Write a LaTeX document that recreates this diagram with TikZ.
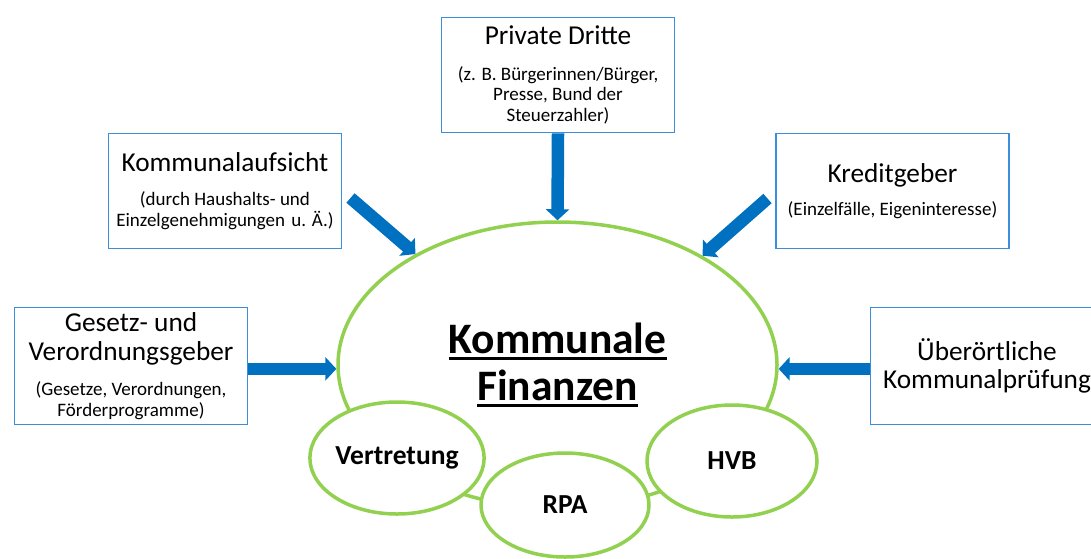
\documentclass[tikz,border=0pt]{standalone}
\usepackage{fontspec}
\setmainfont{Carlito}
\usetikzlibrary{shapes.geometric,arrows.meta}
\definecolor{arrowblue}{HTML}{0070C0}
\definecolor{boxblue}{HTML}{3B8EDB}
\definecolor{ellgreen}{HTML}{92D050}
\newcommand\ulx[1]{\setbox0\hbox{#1}\rlap{\rule[-7pt]{\wd0}{3pt}}\box0}
\newcommand\ttl[1]{{\fontsize{27.3}{28}\selectfont #1}}
\begin{document}
\begin{tikzpicture}[x=1pt,y=-1pt,
  box/.style={draw=boxblue,line width=1.8pt,fill=white,minimum width=233pt,minimum height=115pt,inner sep=0pt,align=center,font=\fontsize{19}{20.5}\selectfont},
  oval/.style={ellipse,draw=ellgreen,line width=3.5pt,fill=white,inner sep=0pt,font=\bfseries\fontsize{27.5}{30}\selectfont},
  bigarrow/.style={draw=arrowblue,line width=12.5pt,-{Triangle[length=11pt,width=23pt]}},
]
\useasboundingbox (0,0) rectangle (1091,558);
% central ellipse
\node[oval,fill=none,minimum width=439pt,minimum height=286pt] (kf) at (557.5,365) {};
\node[font=\bfseries\fontsize{43.5}{47}\selectfont,align=center,inner sep=0pt] (kft) at (557.5,365) {\ulx{Kommunale}\\\ulx{Finanzen}};
% small ellipses
\node[oval,minimum width=170pt,minimum height=112pt] (vt) at (397,458) {Vertretung};
\node[oval,minimum width=168pt,minimum height=104pt] (rpa) at (565,505) {RPA};
\node[oval,minimum width=170pt,minimum height=112pt] (hvb) at (732,461) {HVB};
% boxes
\node[box] (pd) at (558,75) {\ttl{Private Dritte}\\[15pt](z. B. Bürgerinnen/Bürger,\\Presse, Bund der\\Steuerzahler)};
\node[box] (ka) at (225,191) {\ttl{Kommunalaufsicht}\\[14pt](durch Haushalts- und\\Einzelgenehmigungen\hspace{2pt} u. Ä.)};
\node[box] (kg) at (892.5,191) {\ttl{Kreditgeber}\\[13pt](Einzelfälle, Eigeninteresse)};
\node[box,minimum height=117pt] (gz) at (131,366) {\ttl{Gesetz- und}\\[8pt]\ttl{Verordnungsgeber}\\[15pt](Gesetze, Verordnungen,\\Förderprogramme)};
\node[box,minimum height=117pt] (ub) at (987,366) {\ttl{Überörtliche}\\[7pt]\ttl{Kommunalprüfung}};
% arrows
\coordinate (kaT) at (350.5,198);
\coordinate (kgT) at (767.5,198.5);
\draw[bigarrow] (pd.south) -- (kf.north);
\draw[bigarrow] (kaT) -- (kf.142);
\draw[bigarrow] (kgT) -- (kf.37);
\draw[bigarrow] (gz.east |- kf.181) -- (kf.181);
\draw[bigarrow] (ub.west |- kf.-1) -- (kf.-1);
\end{tikzpicture}
\end{document}
